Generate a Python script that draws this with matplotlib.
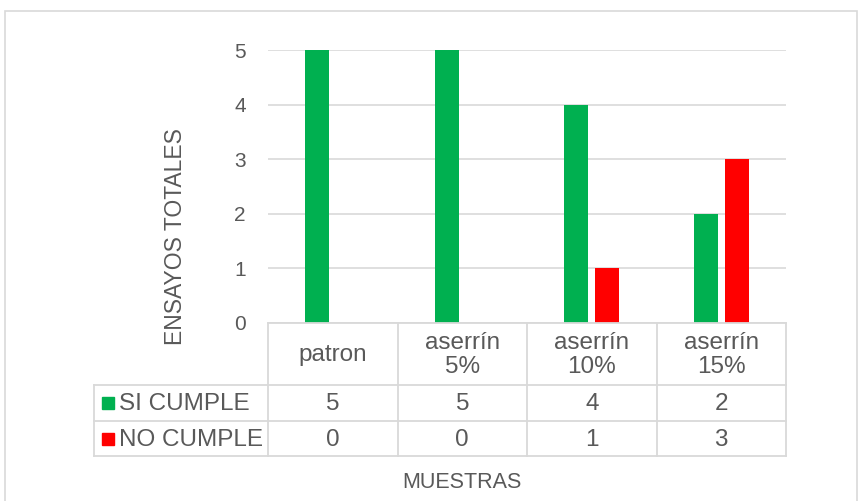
import matplotlib.pyplot as plt
from matplotlib.lines import Line2D
from matplotlib.patches import Rectangle
import numpy as np

plt.rcParams['font.family'] = ['Liberation Sans', 'DejaVu Sans']
plt.rcParams['ytick.major.pad'] = 16

categorias = ["patron", "aserrín\n5%", "aserrín\n10%", "aserrín\n15%"]
series = ["SI CUMPLE", "NO CUMPLE"]
si_cumple = [5, 5, 4, 2]
no_cumple = [0, 0, 1, 3]
colores = ["#00B050", "#FF0000"]

W, H = 867, 501
fig = plt.figure(figsize=(W / 100, H / 100), dpi=100)

def fx(x):
    return x / W

def fy(y):
    return 1 - y / H

# marco del grafico
fig.add_artist(Rectangle((fx(5), fy(520)), fx(857) - fx(5), fy(11) - fy(520),
                         transform=fig.transFigure, fill=False, ec="#D9D9D9", lw=1.2))

# area de trazado
left, right, top, bottom = 268, 786, 50, 323
ax = fig.add_axes([fx(left), fy(bottom), fx(right) - fx(left), fy(top) - fy(bottom)])

x = np.arange(len(categorias))
ancho = 0.185
ax.bar(x - 0.12, si_cumple, ancho, color=colores[0], zorder=3)
ax.bar(x + 0.12, no_cumple, ancho, color=colores[1], zorder=3)

ax.set_xlim(-0.5, len(categorias) - 0.5)
ax.set_ylim(0, 5)
ax.set_yticks(range(0, 6))
ax.yaxis.grid(True, color="#D9D9D9", lw=1.2, zorder=0)
ax.set_xticks([])
ax.tick_params(axis="y", length=0, labelsize=15, labelcolor="#595959")
for s in ax.spines.values():
    s.set_visible(False)

# tabla de datos
col_w = (right - left) / len(categorias)
filas = [bottom, 385, 421, 456]
lc = "#D9D9D9"

def hline(y, x0, x1):
    fig.add_artist(Line2D([fx(x0), fx(x1)], [fy(y), fy(y)], transform=fig.transFigure, color=lc, lw=1.3))

def vline(xp, y0, y1):
    fig.add_artist(Line2D([fx(xp), fx(xp)], [fy(y0), fy(y1)], transform=fig.transFigure, color=lc, lw=1.3))

hline(filas[0], left, right)
for y in filas[1:]:
    hline(y, 94, right)
for i in range(len(categorias) + 1):
    vline(left + i * col_w, filas[0], filas[3])
vline(94, filas[1], filas[3])

for i, c in enumerate(categorias):
    cx = left + (i + 0.5) * col_w
    fig.text(fx(cx), fy((filas[0] + filas[1]) / 2 + 1), c, ha="center", va="center",
             fontsize=17.5, color="#595959", linespacing=1.1)
    for j, vals in enumerate([si_cumple, no_cumple]):
        fig.text(fx(cx), fy((filas[j + 1] + filas[j + 2]) / 2 + 1), str(vals[i]), ha="center",
                 va="center", fontsize=17.5, color="#595959")

for j, nombre in enumerate(series):
    yc = (filas[j + 1] + filas[j + 2]) / 2
    fig.add_artist(Rectangle((fx(102), fy(yc + 6)), fx(12), fy(0) - fy(12), transform=fig.transFigure,
                             color=colores[j]))
    fig.text(fx(119), fy(yc + 1), nombre, ha="left", va="center", fontsize=17.5, color="#595959")

fig.text(fx(176), fy(237), "ENSAYOS TOTALES", rotation=90, ha="center", va="center",
         fontsize=16.5, color="#595959")
fig.text(fx(462), fy(482), "MUESTRAS", ha="center", va="center", fontsize=15.5, color="#595959")

fig.savefig("out.png", dpi=100)
